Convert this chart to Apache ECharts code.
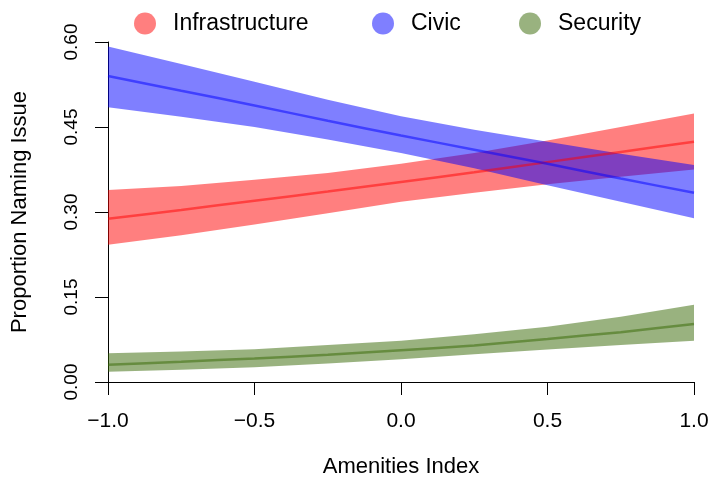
<!DOCTYPE html>
<html>
<head>
<meta charset="utf-8">
<script src="https://cdn.jsdelivr.net/npm/echarts@6/dist/echarts.min.js"></script>
<style>html,body{margin:0;padding:0;background:#fff;}#c{width:711px;height:477px;}</style>
</head>
<body>
<div id="c"></div>
<script>
var xs = [-1.0, -0.75, -0.5, -0.25, 0.0, 0.25, 0.5, 0.75, 1.0];
var xTicks = [-1.0, -0.5, 0.0, 0.5, 1.0];
var yTicks = [0.00, 0.15, 0.30, 0.45, 0.60];

var infraMean  = [0.288, 0.3035, 0.320, 0.336, 0.353, 0.370, 0.388, 0.406, 0.424];
var infraLower = [0.242, 0.259, 0.278, 0.298, 0.318, 0.334, 0.349, 0.362, 0.375];
var infraUpper = [0.339, 0.346, 0.357, 0.369, 0.385, 0.404, 0.426, 0.450, 0.474];

var civicMean  = [0.540, 0.514, 0.488, 0.461, 0.435, 0.410, 0.385, 0.359, 0.334];
var civicLower = [0.485, 0.468, 0.450, 0.428, 0.404, 0.377, 0.347, 0.318, 0.289];
var civicUpper = [0.592, 0.561, 0.530, 0.498, 0.469, 0.445, 0.424, 0.403, 0.383];

var secMean  = [0.0305, 0.0358, 0.0416, 0.0480, 0.0560, 0.0645, 0.0760, 0.0880, 0.1024];
var secLower = [0.0180, 0.0218, 0.0260, 0.0325, 0.0400, 0.0490, 0.0575, 0.0655, 0.0729];
var secUpper = [0.0506, 0.0540, 0.0580, 0.0653, 0.0730, 0.0841, 0.0976, 0.1153, 0.1365];

var names = ['Infrastructure', 'Civic', 'Security'];
var colors = ['rgba(255,0,0,0.5)', 'rgba(0,0,255,0.5)', 'rgba(51,102,0,0.5)'];
var means = [infraMean, civicMean, secMean];
var lowers = [infraLower, civicLower, secLower];
var uppers = [infraUpper, civicUpper, secUpper];

function pairs(arr) { return xs.map(function (x, i) { return [x, arr[i]]; }); }

var FONT = 'Liberation Sans, Arial, Helvetica, sans-serif';
var series = [];
for (var k = 0; k < 3; k++) {
  (function (k) {
    var bandData = xs.map(function (x, i) { return [x, lowers[k][i], uppers[k][i]]; });
    series.push({
      type: 'custom', name: 'band-' + k, silent: true, z: 1 + k * 0.1,
      data: [0],
      renderItem: function (params, api) {
        var pts = [];
        for (var i = 0; i < bandData.length; i++) pts.push(api.coord([bandData[i][0], bandData[i][2]]));
        for (var j = bandData.length - 1; j >= 0; j--) pts.push(api.coord([bandData[j][0], bandData[j][1]]));
        return {
          type: 'polygon',
          shape: { points: pts, smooth: 0 },
          style: { fill: colors[k], stroke: null }
        };
      }
    });
  })(k);
}
for (var k2 = 0; k2 < 3; k2++) {
  series.push({
    type: 'line', name: names[k2], data: pairs(means[k2]), smooth: 0.2,
    symbol: 'none', color: colors[k2], itemStyle: { color: colors[k2] },
    lineStyle: { color: colors[k2], width: 2.5 }, z: 3,
    emphasis: { disabled: true }
  });
}

var legendLefts = [129, 367, 514];
var legends = names.map(function (n, i) {
  return {
    data: [n], left: legendLefts[i], top: 7, orient: 'horizontal',
    icon: 'circle', itemWidth: 46, itemHeight: 22,
    selectedMode: false,
    textStyle: { fontFamily: FONT, fontSize: 23, color: '#000' }
  };
});

var chart = echarts.init(document.getElementById('c'), null, { renderer: 'canvas' });
chart.setOption({
  animation: false,
  backgroundColor: '#fff',
  legend: legends,
  grid: { left: 108, right: 17, top: 42, bottom: 95, containLabel: false, outerBoundsMode: 'none' },
  xAxis: {
    type: 'value', min: -1, max: 1, interval: 0.5,
    name: 'Amenities Index', nameLocation: 'middle', nameGap: 85,
    nameTextStyle: { fontFamily: FONT, fontSize: 22, color: '#000', verticalAlign: 'middle' },
    axisLine: { show: true, onZero: false, lineStyle: { color: '#000', width: 1 } },
    axisTick: { show: true, inside: false, length: 13, lineStyle: { color: '#000', width: 1 } },
    axisLabel: {
      fontFamily: FONT, fontSize: 21, color: '#000', margin: 29,
      formatter: function (v) { return (v < 0 ? '\u2212' : '') + Math.abs(v).toFixed(1); }
    },
    splitLine: { show: false }
  },
  yAxis: {
    type: 'value', min: 0, max: 0.6, interval: 0.15,
    name: 'Proportion Naming Issue', nameLocation: 'middle', nameGap: 88,
    nameTextStyle: { fontFamily: FONT, fontSize: 22, color: '#000', verticalAlign: 'middle' },
    axisLine: { show: true, onZero: false, lineStyle: { color: '#000', width: 1 } },
    axisTick: { show: true, inside: false, length: 13, lineStyle: { color: '#000', width: 1 } },
    axisLabel: {
      fontFamily: FONT, fontSize: 19, color: '#000', margin: 27, rotate: 90,
      formatter: function (v) { return v.toFixed(2); }
    },
    splitLine: { show: false }
  },
  series: series
});
</script>
</body>
</html>
